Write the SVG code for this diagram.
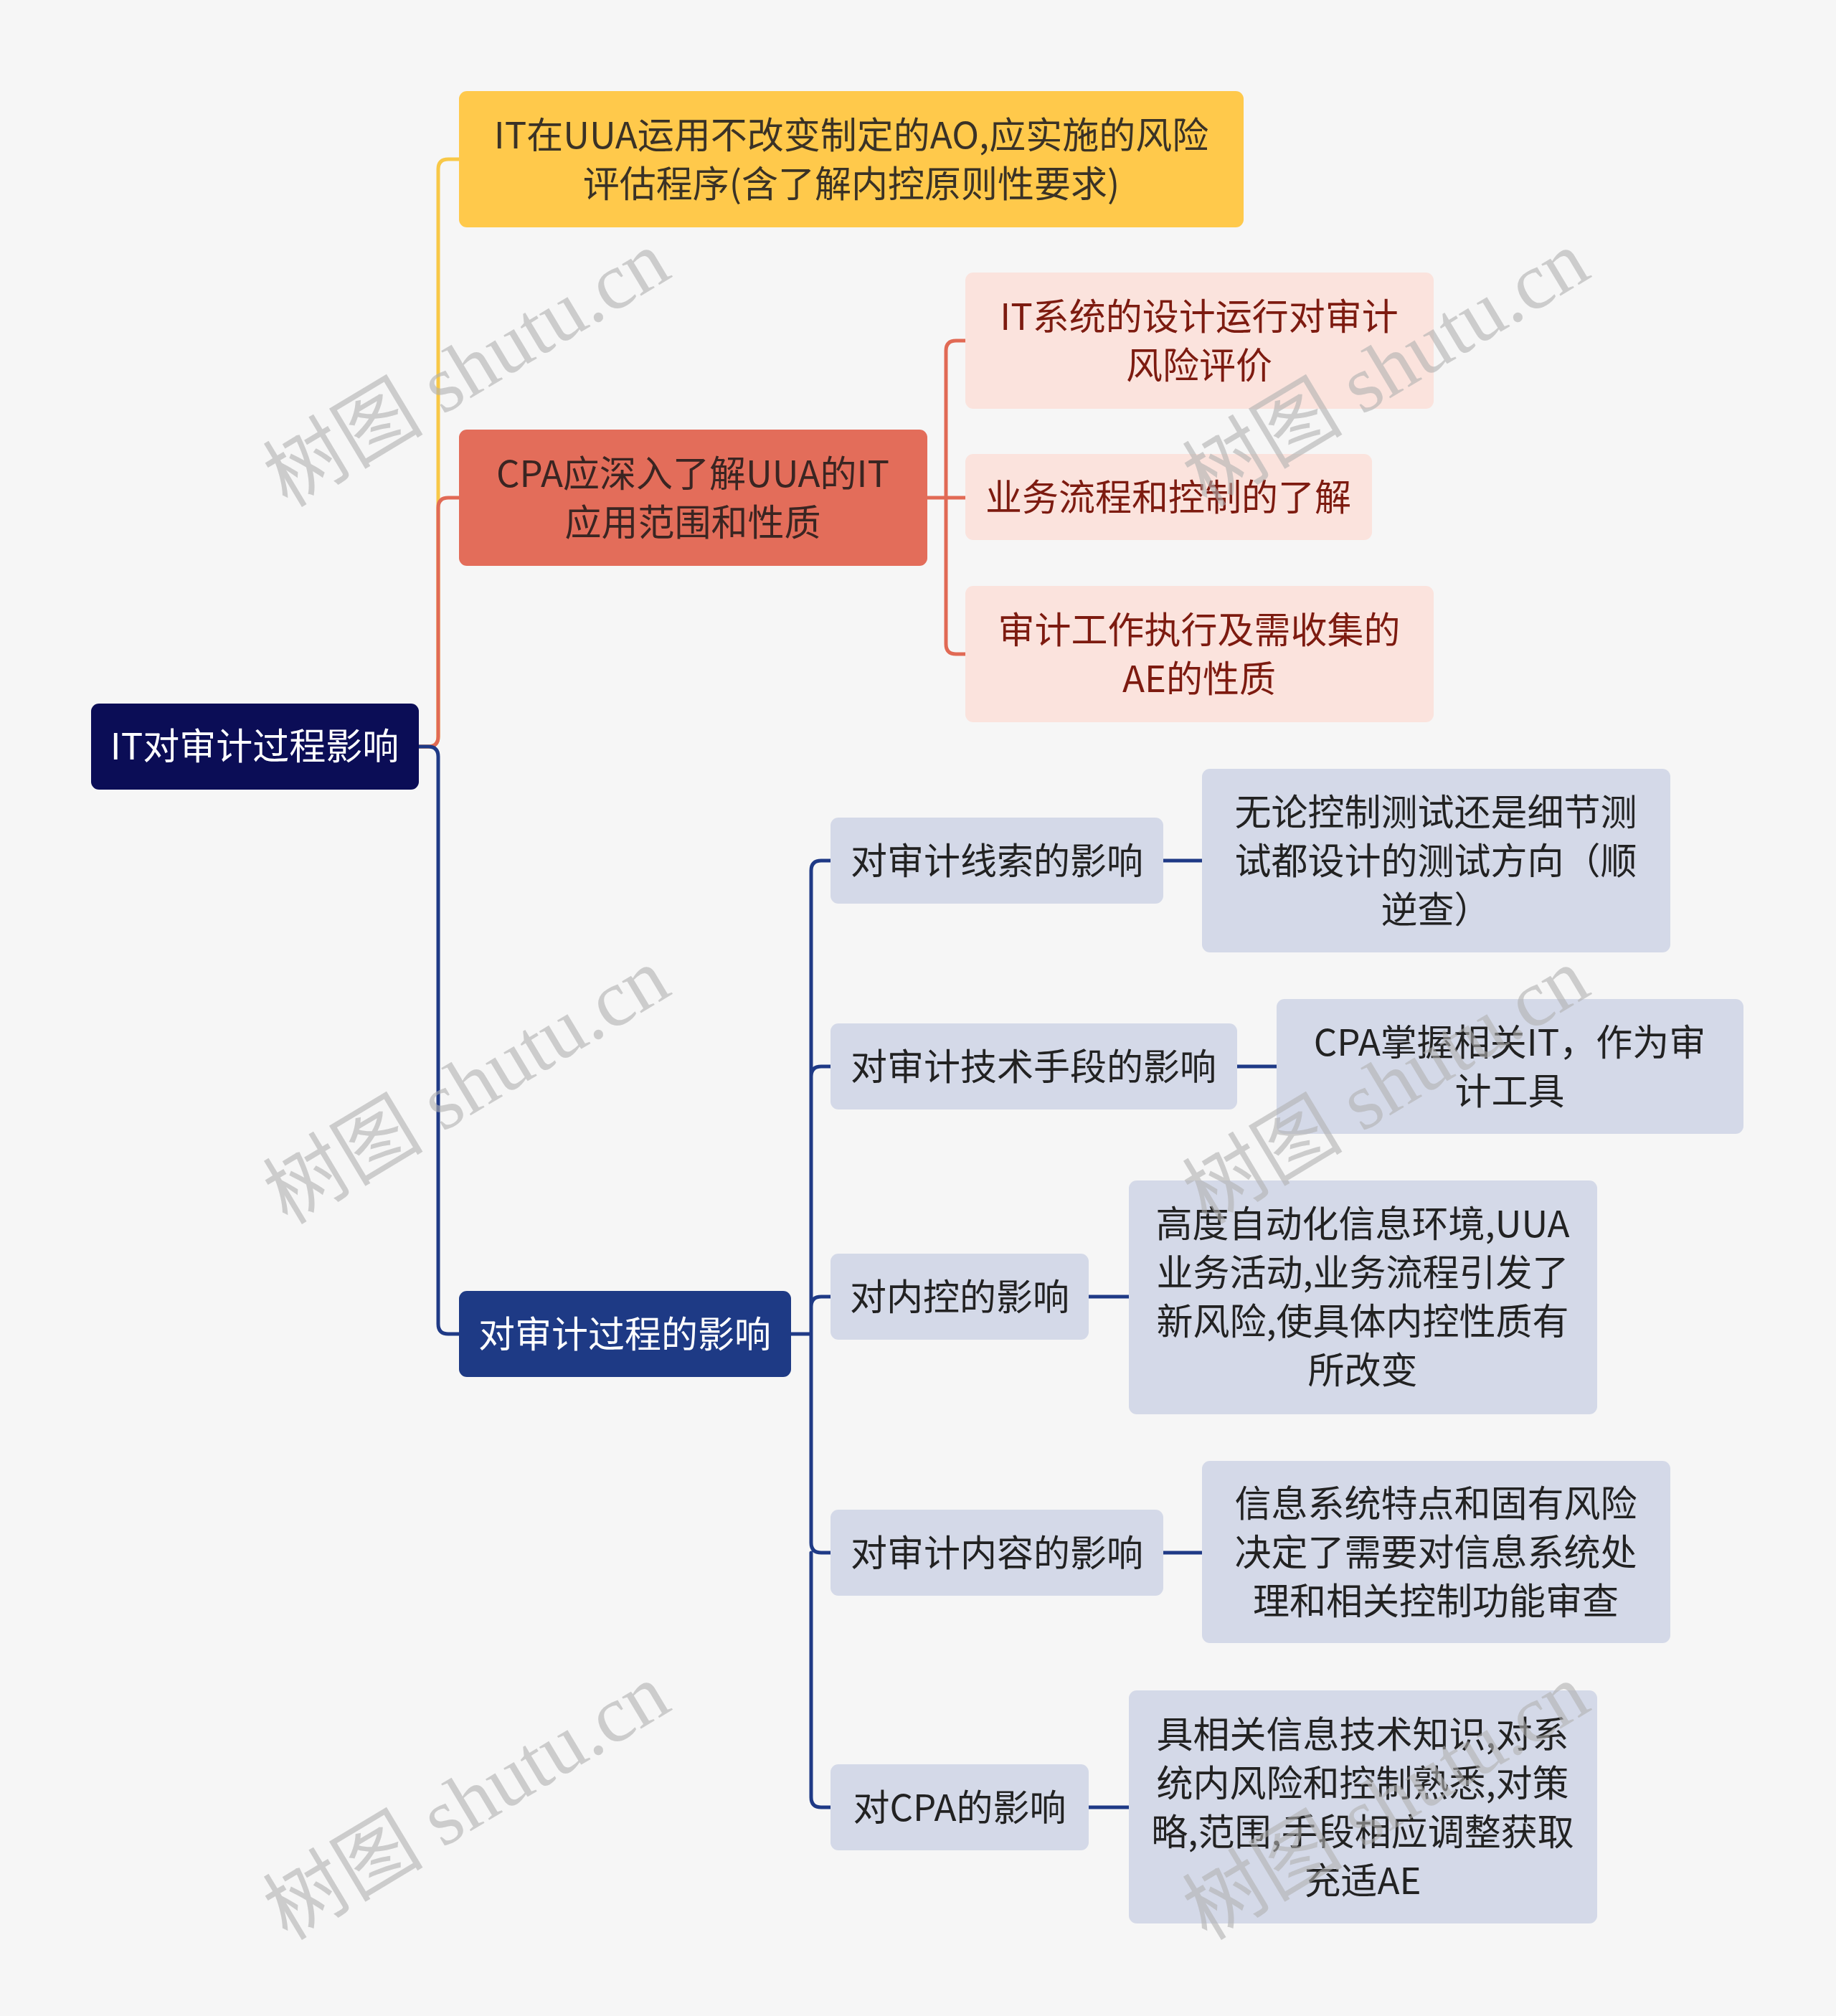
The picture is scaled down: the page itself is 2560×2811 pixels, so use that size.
<svg xmlns="http://www.w3.org/2000/svg" width="2560" height="2811" viewBox="0 0 2560 2811">
<style>
text{font-family:"Noto Sans CJK SC","Noto Sans",sans-serif;font-size:51px;text-anchor:middle;dominant-baseline:central}
.c{fill:none;stroke-width:5;stroke-linecap:round;stroke-linejoin:round}
.y{stroke:#F8C847}.o{stroke:#E16A55}.b{stroke:#1F3A86}
.wm{font-family:"Liberation Serif","Noto Sans CJK SC",serif;font-size:112px;fill:#b0b0b0;fill-opacity:0.6;text-anchor:middle}
</style>
<rect width="2560" height="2811" fill="#F6F6F6"/>
<g id="connectors">
<path class="c y" d="M584 1041 H597 Q611 1041 611 1027 V236 Q611 222 625 222 H640"/>
<path class="c o" d="M584 1041 H597 Q611 1041 611 1027 V708 Q611 694 625 694 H640"/>
<path class="c b" d="M584 1041 H597 Q611 1041 611 1055 V1846 Q611 1860 625 1860 H640"/>
<path class="c o" d="M1293 694 H1319 M1319 694 V489 Q1319 475 1333 475 H1346 M1319 694 H1346 M1319 694 V898 Q1319 912 1333 912 H1346"/>
<path class="c b" d="M1103 1860 H1131 M1131 1860 V1214 Q1131 1200 1145 1200 H1158 M1131 1501 Q1131 1487 1145 1487 H1158 M1131 1822 Q1131 1808 1145 1808 H1158 M1131 1860 V2151 Q1131 2165 1145 2165 H1158 M1131 2165 V2506 Q1131 2520 1145 2520 H1158"/>
<path class="c b" d="M1622 1200 H1676 M1725 1487 H1780 M1518 1808 H1574 M1622 2165 H1676 M1518 2520 H1574"/>
</g>
<g id="root"><rect x="127" y="981" width="457" height="120" rx="11" fill="#0B0D56"/><text x="355" y="1037" fill="#fff">IT对审计过程影响</text></g>
<g id="n1"><rect x="640" y="127" width="1094" height="190" rx="11" fill="#FFC94B"/><text x="1187" y="185" fill="#3a3226">IT在UUA运用不改变制定的AO,应实施的风险</text><text x="1187" y="253" fill="#3a3226">评估程序(含了解内控原则性要求)</text></g>
<g id="n2"><rect x="640" y="599" width="653" height="190" rx="11" fill="#E36D5A"/><text x="966" y="657" fill="#3a2522">CPA应深入了解UUA的IT</text><text x="966" y="725" fill="#3a2522">应用范围和性质</text></g>
<g id="n2a"><rect x="1346" y="380" width="653" height="190" rx="11" fill="#FBE3DD"/><text x="1672" y="438" fill="#7D1B10">IT系统的设计运行对审计</text><text x="1672" y="506" fill="#7D1B10">风险评价</text></g>
<g id="n2b"><rect x="1346" y="633" width="567" height="120" rx="11" fill="#FBE3DD"/><text x="1629" y="690" fill="#7D1B10">业务流程和控制的了解</text></g>
<g id="n2c"><rect x="1346" y="817" width="653" height="190" rx="11" fill="#FBE3DD"/><text x="1672" y="875" fill="#7D1B10">审计工作执行及需收集的</text><text x="1672" y="943" fill="#7D1B10">AE的性质</text></g>
<g id="n3"><rect x="640" y="1800" width="463" height="120" rx="11" fill="#1E3A85"/><text x="871" y="1857" fill="#fff">对审计过程的影响</text></g>
<g id="l1"><rect x="1158" y="1140" width="464" height="120" rx="11" fill="#D4D9E8"/><text x="1390" y="1197" fill="#222">对审计线索的影响</text></g>
<g id="l2"><rect x="1158" y="1427" width="567" height="120" rx="11" fill="#D4D9E8"/><text x="1441" y="1484" fill="#222">对审计技术手段的影响</text></g>
<g id="l3"><rect x="1158" y="1748" width="360" height="120" rx="11" fill="#D4D9E8"/><text x="1338" y="1805" fill="#222">对内控的影响</text></g>
<g id="l4"><rect x="1158" y="2105" width="464" height="120" rx="11" fill="#D4D9E8"/><text x="1390" y="2162" fill="#222">对审计内容的影响</text></g>
<g id="l5"><rect x="1158" y="2460" width="360" height="120" rx="11" fill="#D4D9E8"/><text x="1338" y="2517" fill="#222">对CPA的影响</text></g>
<g id="r1"><rect x="1676" y="1072" width="653" height="256" rx="11" fill="#D4D9E8"/><text x="2002" y="1129" fill="#222">无论控制测试还是细节测</text><text x="2002" y="1197" fill="#222">试都设计的测试方向（顺</text><text x="2002" y="1265" fill="#222">逆查）</text></g>
<g id="r2"><rect x="1780" y="1393" width="651" height="188" rx="11" fill="#D4D9E8"/><text x="2105" y="1450" fill="#222">CPA掌握相关IT，作为审</text><text x="2105" y="1518" fill="#222">计工具</text></g>
<g id="r3"><rect x="1574" y="1646" width="653" height="326" rx="11" fill="#D4D9E8"/><text x="1900" y="1703" fill="#222">高度自动化信息环境,UUA</text><text x="1900" y="1771" fill="#222">业务活动,业务流程引发了</text><text x="1900" y="1839" fill="#222">新风险,使具体内控性质有</text><text x="1900" y="1907" fill="#222">所改变</text></g>
<g id="r4"><rect x="1676" y="2037" width="653" height="254" rx="11" fill="#D4D9E8"/><text x="2002" y="2093" fill="#222">信息系统特点和固有风险</text><text x="2002" y="2161" fill="#222">决定了需要对信息系统处</text><text x="2002" y="2229" fill="#222">理和相关控制功能审查</text></g>
<g id="r5"><rect x="1574" y="2357" width="653" height="325" rx="11" fill="#D4D9E8"/><text x="1900" y="2415" fill="#222">具相关信息技术知识,对系</text><text x="1900" y="2483" fill="#222">统内风险和控制熟悉,对策</text><text x="1900" y="2551" fill="#222">略,范围,手段相应调整获取</text><text x="1900" y="2619" fill="#222">充适AE</text></g>
<g id="watermark">
<text class="wm" transform="translate(630 480) rotate(-31)" dy="40">树图 shutu.cn</text>
<text class="wm" transform="translate(630 1480) rotate(-31)" dy="40">树图 shutu.cn</text>
<text class="wm" transform="translate(630 2478) rotate(-31)" dy="40">树图 shutu.cn</text>
<text class="wm" transform="translate(1912 480) rotate(-31)" dy="40">树图 shutu.cn</text>
<text class="wm" transform="translate(1912 1480) rotate(-31)" dy="40">树图 shutu.cn</text>
<text class="wm" transform="translate(1912 2478) rotate(-31)" dy="40">树图 shutu.cn</text>
</g>
</svg>
